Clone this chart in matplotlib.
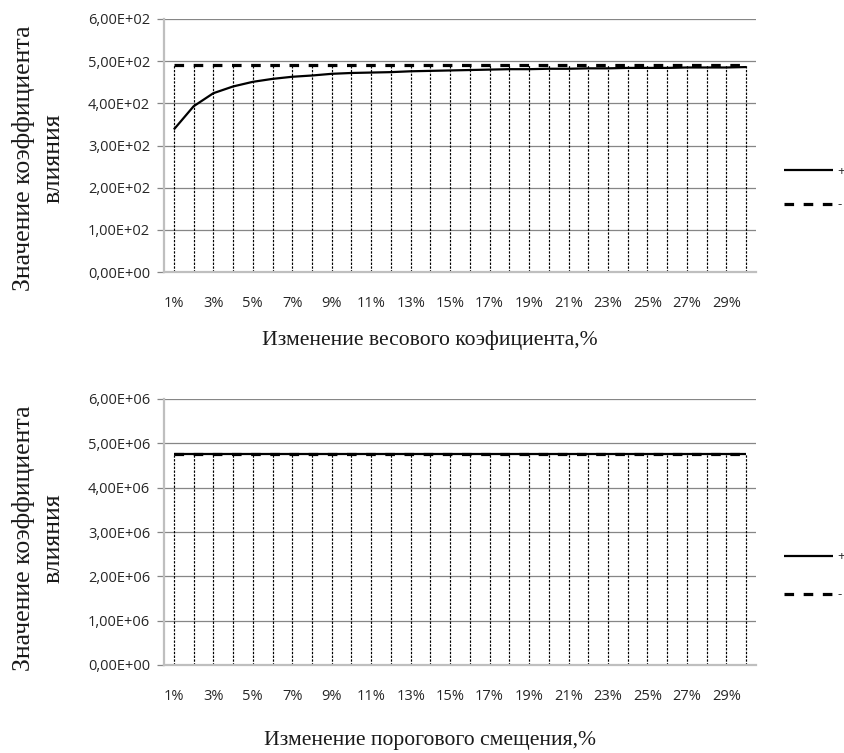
import numpy as np
import matplotlib
matplotlib.use("Agg")
import matplotlib.pyplot as plt
from matplotlib.ticker import FuncFormatter, FixedLocator

# ---- data ----
categories = [f"{i}%" for i in range(1, 31)]
plus_weight = [338, 393, 424, 440, 451, 458, 463, 466, 470, 472, 473, 474, 476, 477, 478,
               479, 480, 481, 481, 482, 482, 483, 483, 484, 484, 484, 485, 485, 485, 486]
minus_weight = [490] * 30
plus_bias = [4.76e6] * 30
minus_bias = [4.76e6] * 30
ylim_weight = 600
ylim_bias = 6e6
xlabel_weight = "Изменение весового коэфициента,%"
xlabel_bias = "Изменение порогового смещения,%"
ylabel = "Значение коэффициента\nвлияния"
legend_labels = ["+", "-"]

W, H = 845, 753
fig = plt.figure(figsize=(W / 100, H / 100), dpi=100)

tick_family = ["Open Sans", "DejaVu Sans"]
serif = ["Liberation Serif", "DejaVu Serif"]


def fmt(v, pos):
    return f"{v:.2E}".replace(".", ",")


def make(ax_rect, plus, minus, ymax, xlabel, xlab_y, ylab_y, leg_y, leg_spacing):
    ax = fig.add_axes(ax_rect)
    x = np.arange(len(categories))
    top = np.maximum(plus, minus)
    ax.vlines(x, 0, top, colors="black", linestyles=(0, (2, 1.2)), linewidth=0.85, zorder=2)
    l1, = ax.plot(x, plus, color="black", linewidth=1.6, zorder=3, solid_capstyle="butt")
    l2, = ax.plot(x, minus, color="black", linewidth=2.3, linestyle=(0, (3, 3)), zorder=4)
    ax.set_xlim(-0.5, len(categories) - 0.5)
    ax.set_ylim(0, ymax)
    ax.yaxis.set_major_locator(FixedLocator(np.linspace(0, ymax, 7)))
    ax.yaxis.set_major_formatter(FuncFormatter(fmt))
    ax.set_xticks(x[::2])
    ax.set_xticklabels(categories[::2])
    ax.grid(axis="y", color="#868686", linewidth=0.9, zorder=1)
    for s in ["top", "right"]:
        ax.spines[s].set_visible(False)
    for s in ["left", "bottom"]:
        ax.spines[s].set_color("#bfbfbf")
        ax.spines[s].set_linewidth(1.6)
    ax.tick_params(axis="y", length=5, color="#868686", width=0.9, pad=5, labelcolor="#262626")
    ax.tick_params(axis="x", length=0, pad=17, labelcolor="#262626")
    for lab in ax.get_xticklabels() + ax.get_yticklabels():
        lab.set_fontfamily(tick_family)
        lab.set_fontsize(10.5)
    fig.text(430 / W, 1 - xlab_y / H, xlabel, ha="center", va="center",
             family=serif, fontsize=15.6, color="#1a1a1a")
    fig.text(38 / W, 1 - ylab_y / H, ylabel, ha="center", va="center", rotation=90,
             family=serif, fontsize=18.5, color="#1a1a1a", multialignment="center",
             linespacing=1.45)
    leg = fig.legend([l1, l2], legend_labels, loc="center left",
                     bbox_to_anchor=(784 / W, 1 - leg_y / H), bbox_transform=fig.transFigure,
                     frameon=False, handlelength=3.7, handletextpad=0.35,
                     labelspacing=leg_spacing, borderpad=0, borderaxespad=0,
                     prop=dict(family=tick_family, size=9.5))
    for t in leg.get_texts():
        t.set_color("#262626")
    return ax


make([164 / W, 1 - 272 / H, (756 - 164) / W, (272 - 19) / H],
     plus_weight, minus_weight, ylim_weight, xlabel_weight, 340, 158, 188, 1.55)
make([164 / W, 1 - 665 / H, (756 - 164) / W, (665 - 399) / H],
     plus_bias, minus_bias, ylim_bias, xlabel_bias, 740, 538, 576, 1.9)

fig.savefig("out.png", dpi=100, facecolor="white")
